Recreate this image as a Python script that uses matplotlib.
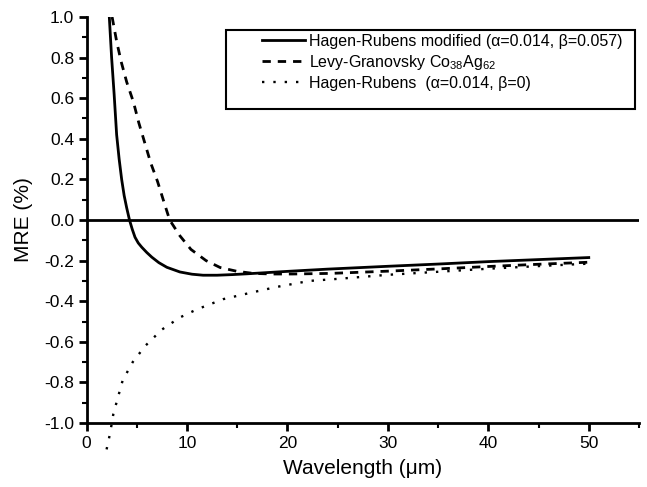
import matplotlib
matplotlib.use("Agg")
import matplotlib.pyplot as plt
from matplotlib.patches import Rectangle
from matplotlib.ticker import MultipleLocator, FormatStrFormatter

plt.rcParams['font.family'] = ['Liberation Sans', 'DejaVu Sans']
plt.rcParams['axes.unicode_minus'] = False
plt.rcParams['mathtext.fontset'] = 'custom'
plt.rcParams['mathtext.rm'] = 'Liberation Sans'

# Hagen-Rubens modified (solid)
hrm_x = [2.27, 2.5, 2.75, 3.0, 3.25, 3.5, 3.75, 4.0, 4.28, 4.55, 4.83, 5.15, 5.5, 6.0,
         6.5, 7.2, 8.0, 9.3, 10.5, 11.6, 13.0, 14.5, 16.0, 18.0, 20.0, 24.0, 30.0,
         35.0, 40.0, 45.0, 50.0]
hrm_y = [1.0, 0.8, 0.62, 0.42, 0.30, 0.2, 0.12, 0.06, 0.0, -0.045, -0.085, -0.113,
         -0.134, -0.16, -0.183, -0.21, -0.233, -0.256, -0.267, -0.272, -0.272, -0.269,
         -0.265, -0.259, -0.253, -0.242, -0.228, -0.217, -0.205, -0.195, -0.185]

# Levy-Granovsky Co38Ag62 (dashed)
lg_x = [2.55, 3.0, 3.45, 4.0, 4.68, 5.2, 5.8, 6.4, 7.07, 7.7, 8.28, 9.3, 10.4, 11.9,
        13.3, 15.0, 16.6, 18.5, 20.5, 24.3, 30.0, 35.0, 40.0, 45.0, 50.0]
lg_y = [1.0, 0.88, 0.78, 0.68, 0.58, 0.48, 0.38, 0.28, 0.19, 0.09, 0.0, -0.078, -0.145,
        -0.2, -0.234, -0.253, -0.263, -0.266, -0.266, -0.263, -0.252, -0.241, -0.229,
        -0.218, -0.208]

# Hagen-Rubens (dotted)
hr_x = [2.0, 2.35, 2.67, 3.15, 3.6, 4.6, 5.85, 7.5, 9.3, 11.0, 13.6, 16.2, 18.9, 22.2,
        25.0, 30.0, 35.0, 40.0, 45.0, 50.0]
hr_y = [-1.13, -1.05, -0.956, -0.87, -0.79, -0.70, -0.62, -0.54, -0.48, -0.44, -0.39,
        -0.36, -0.33, -0.30, -0.29, -0.27, -0.255, -0.24, -0.227, -0.215]

fig = plt.figure(figsize=(6.47, 4.87), dpi=100)
ax = fig.add_axes([0.1337, 0.1314, 0.8539, 0.8337])

ax.axhline(0, color='black', linewidth=2)
ax.plot(hrm_x, hrm_y, color='black', linewidth=2,
        label='Hagen-Rubens modified (\u03b1=0.014, \u03b2=0.057)')
ax.plot(lg_x, lg_y, color='black', linewidth=2, linestyle=(0, (3, 2.5)),
        label=r'Levy-Granovsky Co$_{\mathregular{38}}$Ag$_{\mathregular{62}}$')
ax.plot(hr_x, hr_y, color='black', linewidth=1.7, linestyle=(0, (1, 3.8)),
        label='Hagen-Rubens  (\u03b1=0.014, \u03b2=0)', clip_on=False)

ax.set_xlim(0, 55)
ax.set_ylim(-1.0, 1.0)
ax.xaxis.set_major_locator(MultipleLocator(10))
ax.xaxis.set_minor_locator(MultipleLocator(5))
ax.yaxis.set_major_locator(MultipleLocator(0.2))
ax.yaxis.set_minor_locator(MultipleLocator(0.1))
ax.yaxis.set_major_formatter(FormatStrFormatter('%.1f'))

for s in ['top', 'right']:
    ax.spines[s].set_visible(False)
for s in ['left', 'bottom']:
    ax.spines[s].set_linewidth(2)
ax.tick_params(which='major', direction='out', length=6, width=2, pad=3,
               labelsize=12.5)
ax.tick_params(which='minor', direction='out', length=3.5, width=1.5)

ax.set_xlabel('Wavelength (\u03bcm)', fontsize=15, labelpad=6)
ax.set_ylabel('MRE (%)', fontsize=15, labelpad=8)

# legend box drawn as in the original (entries pushed to the right)
ax.add_patch(Rectangle((0.2525, 0.7745), 0.740, 0.1936, transform=ax.transAxes,
                       fill=False, edgecolor='black', linewidth=1.5, zorder=5))
leg = ax.legend(loc='upper right', bbox_to_anchor=(0.971, 0.958), fontsize=11.5,
                frameon=False, handlelength=2.7, handletextpad=0.3,
                labelspacing=0.25, borderpad=0, borderaxespad=0)

fig.savefig('out.png', dpi=100)
